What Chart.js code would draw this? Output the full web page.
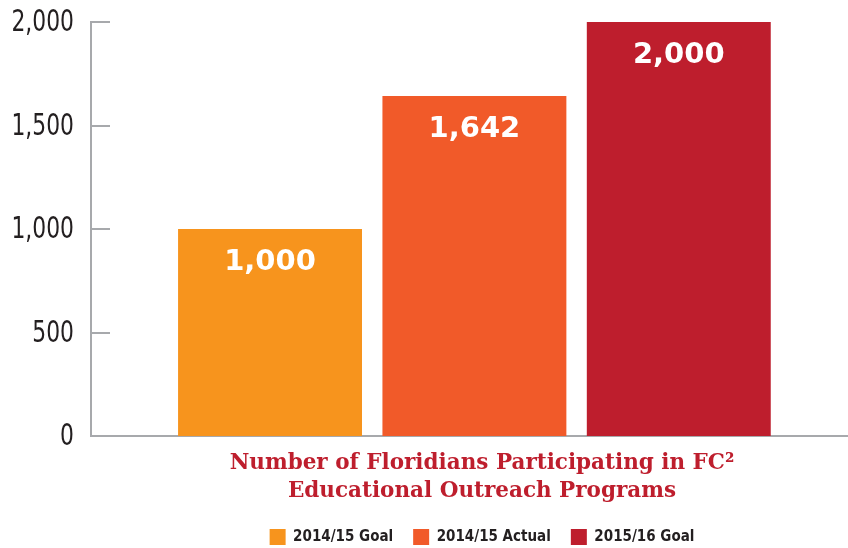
<!DOCTYPE html>
<html>
<head>
<meta charset="utf-8">
<script src="https://cdn.jsdelivr.net/npm/chart.js@4.4.1/dist/chart.umd.min.js"></script>
<style>
html,body{margin:0;padding:0;background:#fff;}
#wrap{width:848px;height:548px;}
</style>
</head>
<body>
<div id="wrap"><canvas id="c" width="848" height="548"></canvas></div>
<script>
const categories = ['2014/15 Goal', '2014/15 Actual', '2015/16 Goal'];
const values = [1000, 1642, 2000];
const colors = ['#F7941D', '#F15A29', '#BE1E2D'];
const yTicks = [0, 500, 1000, 1500, 2000];
const titleLines = ['Number of Floridians Participating in FC\u00B2', 'Educational Outreach Programs'];

const AXIS = '#A7A9AC';
const TEXT = '#231F20';
const COND = '"DejaVu Sans Condensed", sans-serif';

const datasets = categories.map((c, i) => ({
  label: c,
  data: [{x: i + 1, y: values[i]}],
  backgroundColor: colors[i],
  borderWidth: 0,
  barPercentage: 0.9,
  categoryPercentage: 1.0,
  grouped: false
}));

// inward tick marks and condensed tick labels, positioned by the y scale
const yAxisDecor = {
  id: 'yAxisDecor',
  afterDraw(chart) {
    const ctx = chart.ctx, y = chart.scales.y, a = chart.chartArea;
    ctx.save();
    ctx.strokeStyle = AXIS;
    ctx.lineWidth = 2;
    y.ticks.forEach(t => {
      const py = Math.round(y.getPixelForValue(t.value));
      if (t.value !== 0) {
        ctx.beginPath();
        ctx.moveTo(a.left, py);
        ctx.lineTo(a.left + 19, py);
        ctx.stroke();
      }
      ctx.save();
      ctx.fillStyle = TEXT;
      ctx.font = '30px ' + COND;
      ctx.textAlign = 'right';
      ctx.textBaseline = 'middle';
      ctx.translate(a.left - 17, py + 1);
      ctx.scale(0.81, 1);
      ctx.fillText(t.value.toLocaleString('en-US'), 0, 0);
      ctx.restore();
    });
    ctx.restore();
  }
};

const barLabels = {
  id: 'barLabels',
  afterDatasetsDraw(chart) {
    const ctx = chart.ctx;
    ctx.save();
    ctx.fillStyle = '#ffffff';
    ctx.font = 'bold 29px "DejaVu Sans", sans-serif';
    ctx.textAlign = 'center';
    ctx.textBaseline = 'middle';
    chart.data.datasets.forEach((ds, i) => {
      const bar = chart.getDatasetMeta(i).data[0];
      ctx.fillText(values[i].toLocaleString('en-US'), bar.x, bar.y + 33.5);
    });
    ctx.restore();
  }
};

// centre title and legend a little right of the canvas centre, as in the reference
const shiftBlocks = {
  id: 'shiftBlocks',
  afterLayout(chart) {
    const dx = 58;
    [chart.titleBlock, chart.legend].forEach(b => {
      if (b) { b.left += dx; b.right += dx; }
    });
  }
};

new Chart(document.getElementById('c'), {
  type: 'bar',
  data: { datasets },
  options: {
    responsive: false,
    animation: false,
    layout: { padding: { top: 22, right: 0, left: 0, bottom: -7 } },
    scales: {
      x: {
        type: 'linear',
        offset: false,
        min: 0.124,
        max: 3.828,
        afterBuildTicks: s => { s.ticks = [1, 2, 3].map(v => ({ value: v })); },
        ticks: { display: false },
        grid: { display: false, drawTicks: false, offset: false },
        border: { display: true, color: AXIS, width: 2 },
        afterFit: s => { s.height = 0; }
      },
      y: {
        min: 0,
        max: 2000,
        afterBuildTicks: s => { s.ticks = yTicks.map(v => ({ value: v })); },
        ticks: { display: false },
        grid: { display: false, drawTicks: false },
        border: { display: true, color: AXIS, width: 2 },
        afterFit: s => { s.width = 91; }
      }
    },
    plugins: {
      title: {
        display: true,
        position: 'bottom',
        weight: 500,
        text: titleLines,
        color: '#BE1E2D',
        font: { family: '"DejaVu Serif", serif', size: 21.5, weight: 'bold', lineHeight: 1.3 },
        padding: { top: 13, bottom: 4 }
      },
      legend: {
        position: 'bottom',
        weight: 1000,
        labels: {
          boxWidth: 16,
          boxHeight: 16,
          padding: 20,
          color: TEXT,
          font: { family: COND, size: 15, weight: 'bold' }
        }
      },
      tooltip: { enabled: false }
    }
  },
  plugins: [yAxisDecor, barLabels, shiftBlocks]
});
</script>
</body>
</html>
